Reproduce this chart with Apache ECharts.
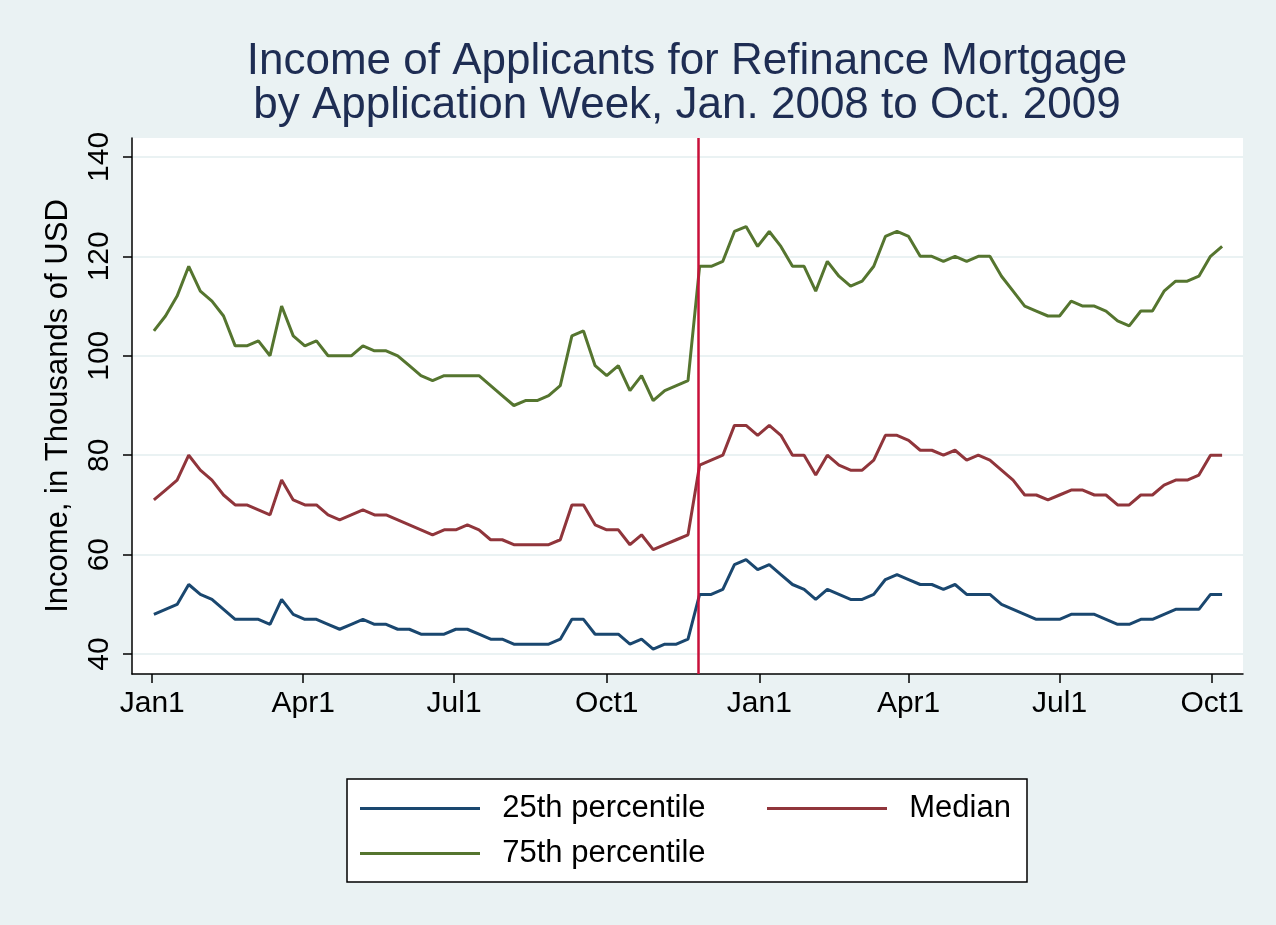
<!DOCTYPE html>
<html>
<head>
<meta charset="utf-8">
<title>Income of Applicants for Refinance Mortgage</title>
<script src="https://cdn.jsdelivr.net/npm/echarts@6/dist/echarts.min.js"></script>
<style>
  html, body { margin: 0; padding: 0; background: #eaf2f3; }
  #chart { width: 1276px; height: 925px; }
</style>
</head>
<body>
<div id="chart"></div>
<script>
// weekly series, first week starts Wed 2 Jan 2008 (day 1 counted from 1 Jan 2008)
var firstWeekDay = 1;

var p25 = [48,49,50,54,52,51,49,47,47,47, 46,51,48,47,47,46,45,46,47,46,
           46,45,45,44,44,44,45,45,44,43, 43,42,42,42,42,43,47,47,44,44,
           44,42,43,41,42,42,43,
           52,52,53,58,59,57,58,56,54,53, 51,53,52,51,51,52,55,56,55,54,
           54,53,54,52,52,52,50,49,48,47, 47,47,48,48,48,47,46,46,47,47,
           48,49,49,49,52,52];

var median = [71,73,75,80,77,75,72,70,70,69, 68,75,71,70,70,68,67,68,69,68,
              68,67,66,65,64,65,65,66,65,63, 63,62,62,62,62,63,70,70,66,65,
              65,62,64,61,62,63,64,
              78,79,80,86,86,84,86,84,80,80, 76,80,78,77,77,79,84,84,83,81,
              81,80,81,79,80,79,77,75,72,72, 71,72,73,73,72,72,70,70,72,72,
              74,75,75,76,80,80];

var p75 = [105,108,112,118,113,111,108,102,102,103, 100,110,104,102,103,100,100,100,102,101,
           101,100,98,96,95,96,96,96,96,94, 92,90,91,91,92,94,104,105,98,96,
           98,93,96,91,93,94,95,
           118,118,119,125,126,122,125,122,118,118, 113,119,116,114,115,118,124,125,124,120,
           120,119,120,119,120,120,116,113,110,109, 108,108,111,110,110,109,107,106,109,109,
           113,115,115,116,120,122];

// x ticks: days since 1 Jan 2008
var tickDays = [0, 91, 182, 274, 366, 456, 547, 639];
var tickLabels = ['Jan1','Apr1','Jul1','Oct1','Jan1','Apr1','Jul1','Oct1'];
var yTicks = [40, 60, 80, 100, 120, 140];
var breakDay = 329; // 25 Nov 2008

var FONT = "'Liberation Sans', Arial, sans-serif";

function toPairs(values) {
	var out = [];
	for (var i = 0; i < values.length; i++) {
		out.push([firstWeekDay + 7 * i, values[i]]);
	}
	return out;
}

var chart = echarts.init(document.getElementById('chart'));

var legendBase = {
	padding: 0,
	icon: 'rect',
	itemWidth: 120,
	itemHeight: 3,
	selectedMode: false,
	formatter: '  {name}',
	textStyle: { color: '#000', fontSize: 31, fontFamily: FONT },
	z: 5
};

var option = {
	backgroundColor: '#eaf2f3',
	animation: false,
	title: {
		text: 'Income of Applicants for Refinance Mortgage\nby Application Week, Jan. 2008 to Oct. 2009',
		left: 687,
		top: 40,
		textAlign: 'center',
		padding: 0,
		textStyle: {
			color: '#1e2d53',
			fontSize: 44,
			fontWeight: 'normal',
			lineHeight: 44,
			fontFamily: FONT
		}
	},
	grid: {
		left: 132,
		right: 33,
		top: 138,
		bottom: 251,
		show: true,
		backgroundColor: '#ffffff',
		borderWidth: 0
	},
	xAxis: {
		type: 'value',
		min: -12.2,
		max: 657.6,
		axisLine: { onZero: false, lineStyle: { color: '#000', width: 1.5 } },
		axisTick: { show: true, length: 9, customValues: tickDays, lineStyle: { color: '#000', width: 1.5 } },
		splitLine: { show: false },
		axisLabel: {
			customValues: tickDays,
			margin: 15,
			color: '#000',
			fontSize: 30,
			fontFamily: FONT,
			formatter: function (v) {
				var i = tickDays.indexOf(v);
				return i >= 0 ? tickLabels[i] : '';
			}
		}
	},
	yAxis: {
		type: 'value',
		min: 36,
		max: 143.8,
		name: 'Income, in Thousands of USD',
		nameLocation: 'middle',
		nameGap: 58,
		nameTextStyle: { color: '#000', fontSize: 31, fontFamily: FONT },
		axisLine: { show: true, onZero: false, lineStyle: { color: '#000', width: 1.5 } },
		axisTick: { show: true, length: 9, customValues: yTicks, lineStyle: { color: '#000', width: 1.5 } },
		splitLine: { show: true, lineStyle: { color: '#eaf2f3', width: 2 } },
		axisLabel: {
			customValues: yTicks,
			rotate: 90,
			margin: 17,
			color: '#000',
			fontSize: 30,
			fontFamily: FONT
		}
	},
	legend: [
		Object.assign({}, legendBase, { data: ['25th percentile'], left: 360, top: 793 }),
		Object.assign({}, legendBase, { data: ['Median'], left: 767, top: 793 }),
		Object.assign({}, legendBase, { data: ['75th percentile'], left: 360, top: 838 })
	],
	graphic: [{
		type: 'rect',
		z: 0,
		shape: { x: 347, y: 779, width: 680, height: 103 },
		style: { fill: '#ffffff', stroke: '#000', lineWidth: 1.5 }
	}],
	series: [
		{
			name: '25th percentile',
			type: 'line',
			data: toPairs(p25),
			symbol: 'none',
			lineStyle: { color: '#1a476f', width: 3 },
			itemStyle: { color: '#1a476f' },
			markLine: {
				silent: true,
				symbol: 'none',
				label: { show: false },
				lineStyle: { color: '#c8103a', width: 2.5, type: 'solid' },
				data: [{ xAxis: breakDay }]
			}
		},
		{
			name: 'Median',
			type: 'line',
			data: toPairs(median),
			symbol: 'none',
			lineStyle: { color: '#90353b', width: 3 },
			itemStyle: { color: '#90353b' }
		},
		{
			name: '75th percentile',
			type: 'line',
			data: toPairs(p75),
			symbol: 'none',
			lineStyle: { color: '#55752f', width: 3 },
			itemStyle: { color: '#55752f' }
		}
	]
};

chart.setOption(option);

window.addEventListener('resize', function () {
	chart.resize();
});
</script>
</body>
</html>
